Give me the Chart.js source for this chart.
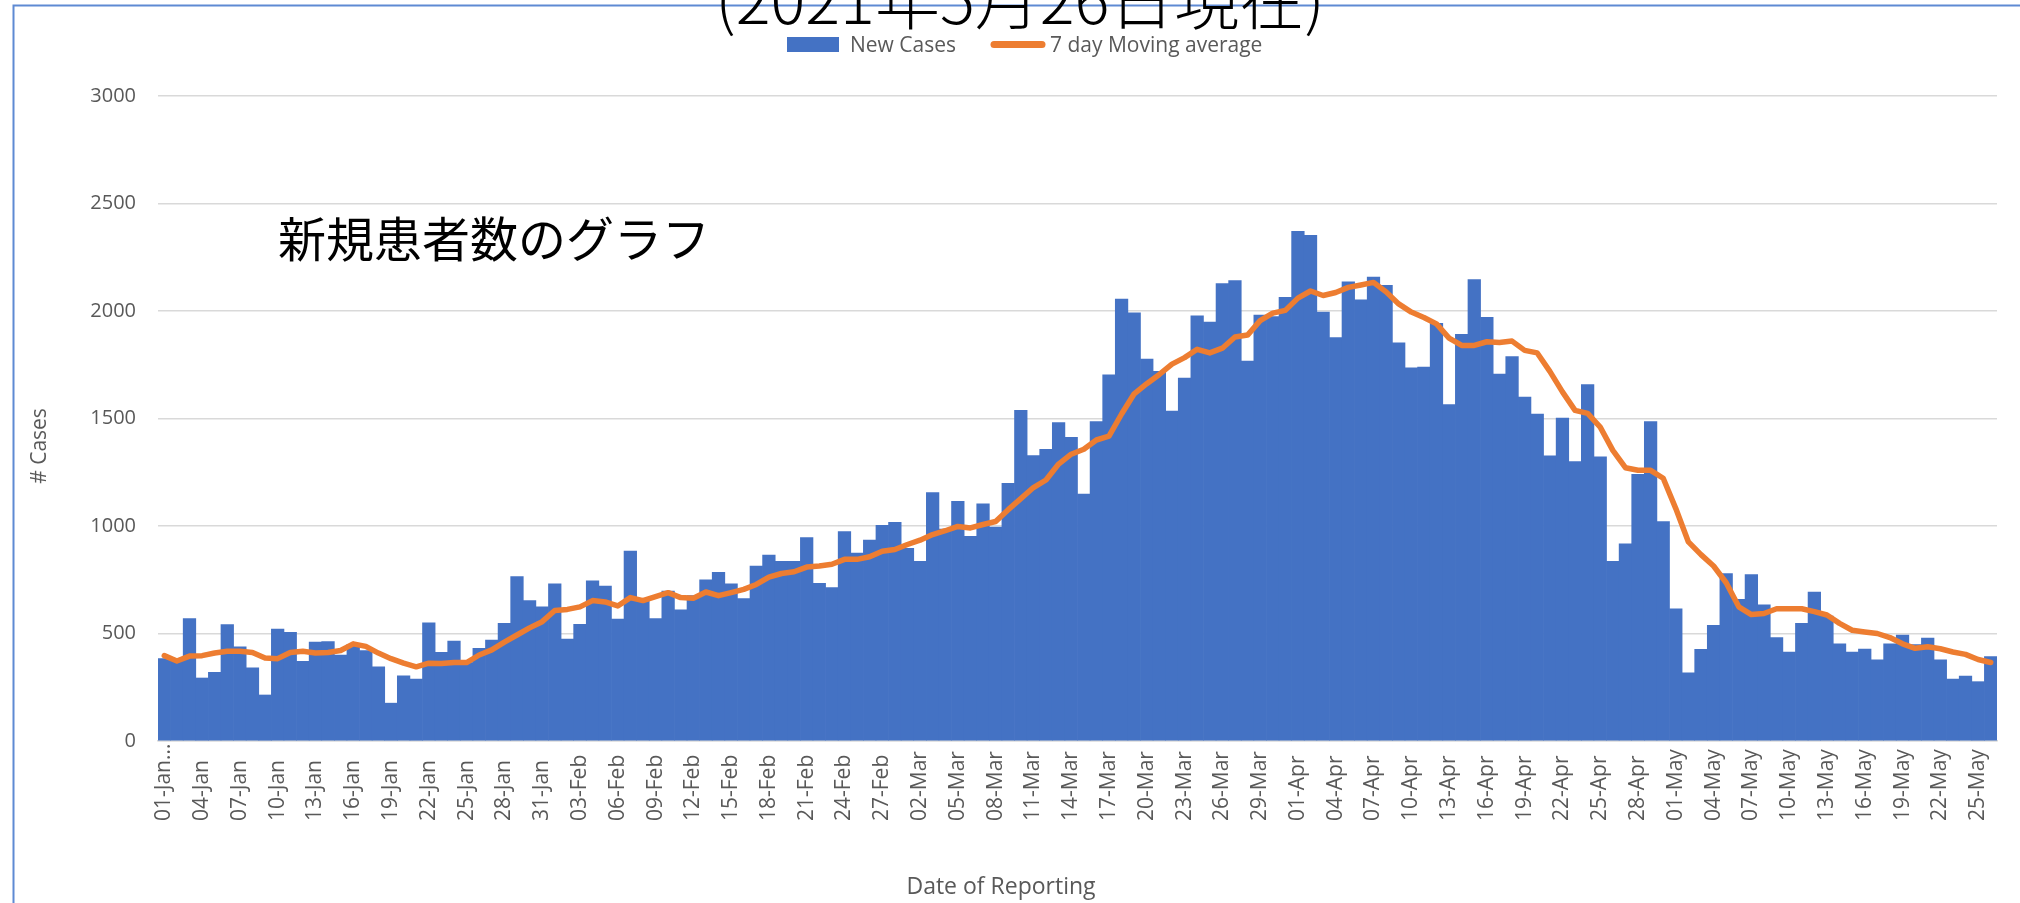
<!DOCTYPE html>
<html>
<head>
<meta charset="utf-8">
<script src="https://cdn.jsdelivr.net/npm/chart.js@4.4.1/dist/chart.umd.min.js"></script>
<style>
  html, body { margin: 0; padding: 0; background: #ffffff; overflow: hidden; }
  canvas { display: block; }
</style>
</head>
<body>
<canvas id="c" width="2020" height="903" style="width:2020px;height:903px"></canvas>
<script>
const categories = [
  "01-Jan","02-Jan","03-Jan","04-Jan","05-Jan","06-Jan","07-Jan","08-Jan","09-Jan","10-Jan",
  "11-Jan","12-Jan","13-Jan","14-Jan","15-Jan","16-Jan","17-Jan","18-Jan","19-Jan","20-Jan",
  "21-Jan","22-Jan","23-Jan","24-Jan","25-Jan","26-Jan","27-Jan","28-Jan","29-Jan","30-Jan","31-Jan",
  "01-Feb","02-Feb","03-Feb","04-Feb","05-Feb","06-Feb","07-Feb","08-Feb","09-Feb","10-Feb",
  "11-Feb","12-Feb","13-Feb","14-Feb","15-Feb","16-Feb","17-Feb","18-Feb","19-Feb","20-Feb",
  "21-Feb","22-Feb","23-Feb","24-Feb","25-Feb","26-Feb","27-Feb","28-Feb",
  "01-Mar","02-Mar","03-Mar","04-Mar","05-Mar","06-Mar","07-Mar","08-Mar","09-Mar","10-Mar",
  "11-Mar","12-Mar","13-Mar","14-Mar","15-Mar","16-Mar","17-Mar","18-Mar","19-Mar","20-Mar",
  "21-Mar","22-Mar","23-Mar","24-Mar","25-Mar","26-Mar","27-Mar","28-Mar","29-Mar","30-Mar","31-Mar",
  "01-Apr","02-Apr","03-Apr","04-Apr","05-Apr","06-Apr","07-Apr","08-Apr","09-Apr","10-Apr",
  "11-Apr","12-Apr","13-Apr","14-Apr","15-Apr","16-Apr","17-Apr","18-Apr","19-Apr","20-Apr",
  "21-Apr","22-Apr","23-Apr","24-Apr","25-Apr","26-Apr","27-Apr","28-Apr","29-Apr","30-Apr",
  "01-May","02-May","03-May","04-May","05-May","06-May","07-May","08-May","09-May","10-May",
  "11-May","12-May","13-May","14-May","15-May","16-May","17-May","18-May","19-May","20-May",
  "21-May","22-May","23-May","24-May","25-May","26-May"
];

const tickLabels = [
  "01-Jan...","04-Jan","07-Jan","10-Jan","13-Jan","16-Jan","19-Jan","22-Jan","25-Jan","28-Jan","31-Jan",
  "03-Feb","06-Feb","09-Feb","12-Feb","15-Feb","18-Feb","21-Feb","24-Feb","27-Feb",
  "02-Mar","05-Mar","08-Mar","11-Mar","14-Mar","17-Mar","20-Mar","23-Mar","26-Mar","29-Mar",
  "01-Apr","04-Apr","07-Apr","10-Apr","13-Apr","16-Apr","19-Apr","22-Apr","25-Apr","28-Apr",
  "01-May","04-May","07-May","10-May","13-May","16-May","19-May","22-May","25-May"
];

const newCases = [
  383, 380, 569, 293, 319, 541, 438, 340, 214, 521,
  505, 371, 460, 462, 400, 450, 421, 345, 176, 303,
  288, 550, 412, 465, 365, 431, 469, 547, 765, 653,
  624, 731, 474, 543, 745, 721, 567, 883, 659, 569,
  697, 610, 676, 750, 784, 731, 662, 814, 865, 836,
  836, 946, 733, 714, 974, 874, 934, 1003, 1017, 896,
  836, 1155, 986, 1115, 952, 1103, 995, 1198, 1538, 1327,
  1357, 1481, 1412, 1148, 1486, 1703, 2055, 1991, 1776, 1719,
  1534, 1688, 1977, 1948, 2127, 2141, 1767, 1981, 1974, 2064,
  2371, 2352, 1995, 1876, 2136, 2052, 2158, 2119, 1852, 1736,
  1739, 1943, 1565, 1891, 2146, 1970, 1707, 1788, 1600, 1521,
  1326, 1502, 1300, 1658, 1322, 836, 917, 1240, 1486, 1021,
  615, 317, 426, 538, 779, 659, 774, 633, 481, 414,
  547, 693, 581, 452, 414, 428, 378, 452, 493, 448,
  479, 378, 288, 302, 276, 393
];

const movingAverage = [
  397, 372, 395, 397, 409, 417, 417, 412, 386, 383,
  412, 417, 409, 412, 421, 452, 440, 409, 383, 362,
  345, 362, 360, 365, 365, 400, 424, 460, 493, 526,
  555, 607, 612, 624, 653, 647, 628, 667, 653, 672,
  690, 667, 664, 693, 676, 690, 705, 728, 762, 779,
  787, 809, 814, 822, 845, 845, 857, 883, 891, 914,
  934, 960, 978, 998, 991, 1007, 1021, 1076, 1127, 1179,
  1214, 1288, 1334, 1357, 1400, 1418, 1521, 1615, 1662, 1705,
  1753, 1783, 1822, 1805, 1827, 1879, 1888, 1955, 1990, 2003,
  2060, 2093, 2072, 2086, 2110, 2121, 2133, 2089, 2033, 1995,
  1970, 1940, 1874, 1840, 1840, 1857, 1853, 1860, 1817, 1805,
  1719, 1624, 1538, 1524, 1460, 1352, 1271, 1259, 1259, 1222,
  1081, 926, 867, 814, 736, 624, 588, 593, 615, 615,
  615, 602, 586, 547, 515, 507, 500, 481, 452, 431,
  438, 429, 414, 403, 379, 365
];

const yTicks = [0, 500, 1000, 1500, 2000, 2500, 3000];

const titleText = "(2021年5月26日現在)";
const noteText = "新規患者数のグラフ";
const seriesNames = ["New Cases", "7 day Moving average"];
const yTitle = "# Cases";
const xTitle = "Date of Reporting";

const BAR_COLOR = "#4472C4";
const LINE_COLOR = "#ED7D31";
const TEXT_COLOR = "#595959";
const GRID_COLOR = "#D9D9D9";
const LATIN = '"Open Sans", "Noto Sans", sans-serif';
const CJK = '"Noto Sans CJK JP", "Noto Sans CJK SC", sans-serif';

const decor = {
  id: "decor",
  beforeDraw(chart) {
    const ctx = chart.ctx;
    ctx.save();
    ctx.fillStyle = "#ffffff";
    ctx.fillRect(0, 0, chart.width, chart.height);
    ctx.strokeStyle = "#5E8AD3";
    ctx.lineWidth = 2;
    ctx.beginPath();
    ctx.moveTo(13.5, chart.height);
    ctx.lineTo(13.5, 5.5);
    ctx.lineTo(chart.width, 5.5);
    ctx.stroke();
    ctx.restore();
  },
  afterDraw(chart) {
    const ctx = chart.ctx;
    ctx.save();
    // clipped main title
    ctx.fillStyle = "#000000";
    ctx.font = "300 65px " + CJK;
    ctx.textAlign = "center";
    ctx.textBaseline = "alphabetic";
    ctx.fillText(titleText, 1020, 24);

    // annotation
    ctx.font = "400 48px " + CJK;
    ctx.textAlign = "left";
    ctx.fillText(noteText, 278, 257);

    // legend
    ctx.fillStyle = BAR_COLOR;
    ctx.fillRect(787, 37, 52, 15);
    ctx.strokeStyle = LINE_COLOR;
    ctx.lineWidth = 7;
    ctx.lineCap = "round";
    ctx.beginPath();
    ctx.moveTo(994, 44.5);
    ctx.lineTo(1042, 44.5);
    ctx.stroke();
    ctx.fillStyle = TEXT_COLOR;
    ctx.font = "400 21px " + LATIN;
    ctx.textAlign = "left";
    ctx.textBaseline = "alphabetic";
    ctx.fillText(seriesNames[0], 850, 52);
    ctx.fillText(seriesNames[1], 1050, 52);

    // x category labels (every third category), placed by the x scale
    const xs = chart.scales.x;
    ctx.font = "400 21px " + LATIN;
    ctx.textAlign = "left";
    ctx.textBaseline = "middle";
    for (let k = 0; k < tickLabels.length; k++) {
      const x = xs.getPixelForValue(k * 3);
      ctx.save();
      ctx.translate(x, 821);
      ctx.rotate(-Math.PI / 2);
      ctx.fillText(tickLabels[k], 0, 0);
      ctx.restore();
    }

    // axis titles
    ctx.font = "400 21px " + LATIN;
    ctx.textAlign = "center";
    ctx.textBaseline = "alphabetic";
    ctx.save();
    ctx.translate(46, 446);
    ctx.rotate(-Math.PI / 2);
    ctx.fillText(yTitle, 0, 0);
    ctx.restore();

    ctx.font = "400 23px " + LATIN;
    ctx.fillText(xTitle, 1001, 894);
    ctx.restore();
  }
};

new Chart(document.getElementById("c"), {
  type: "bar",
  data: {
    labels: categories,
    datasets: [
      {
        type: "line",
        label: seriesNames[1],
        data: movingAverage,
        borderColor: LINE_COLOR,
        backgroundColor: LINE_COLOR,
        borderWidth: 5.5,
        pointRadius: 0,
        pointHoverRadius: 0,
        tension: 0,
        borderJoinStyle: "round",
        borderCapStyle: "round",
        order: 0
      },
      {
        type: "bar",
        label: seriesNames[0],
        data: newCases,
        backgroundColor: BAR_COLOR,
        borderWidth: 0,
        barPercentage: 1,
        categoryPercentage: 1,
        order: 1
      }
    ]
  },
  options: {
    responsive: false,
    animation: false,
    layout: { padding: { left: 0, right: 23, top: 96, bottom: 0 } },
    plugins: {
      legend: { display: false },
      title: { display: false },
      tooltip: { enabled: false }
    },
    scales: {
      x: {
        type: "category",
        offset: true,
        grid: { display: false, drawTicks: false },
        border: { display: true, color: GRID_COLOR, width: 1.5 },
        ticks: { display: false, autoSkip: false },
        afterFit: (s) => { s.height = 162; }
      },
      y: {
        min: yTicks[0],
        max: yTicks[yTicks.length - 1],
        afterBuildTicks: (s) => { s.ticks = yTicks.map(v => ({ value: v })); },
        grid: { color: GRID_COLOR, lineWidth: 1.5, drawTicks: false },
        border: { display: false },
        ticks: {
          padding: 22,
          color: TEXT_COLOR,
          font: { family: LATIN, size: 20 },
          callback: (v) => String(v)
        },
        afterFit: (s) => { s.width = 158; }
      }
    }
  },
  plugins: [decor]
});
</script>
</body>
</html>
